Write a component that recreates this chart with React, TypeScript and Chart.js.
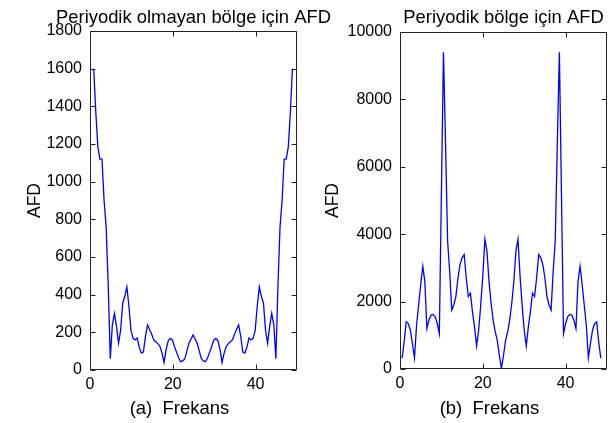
import React, { useEffect, useRef } from "react";
import { Chart, registerables } from "chart.js";

Chart.register(...registerables);

// ---- data ----
const FREQ_TICKS = [0, 20, 40];
const LEFT_Y_TICKS = [0, 200, 400, 600, 800, 1000, 1200, 1400, 1600, 1800];
const RIGHT_Y_TICKS = [0, 2000, 4000, 6000, 8000, 10000];

const LEFT_TITLE = "Periyodik olmayan bölge için AFD";
const RIGHT_TITLE = "Periyodik bölge için AFD";
const LEFT_XLABEL = "(a)  Frekans";
const RIGHT_XLABEL = "(b)  Frekans";
const Y_LABEL = "AFD";

// frequency bins (half-unit spacing)
const LEFT_FREQ = Array.from({ length: 97 }, (_, i) => 0.9 + 0.5 * i);
const RIGHT_FREQ = Array.from({ length: 97 }, (_, i) => 0.5 + 0.5 * i);

const LEFT_AFD = [
  1600, 1370, 1185, 1120, 1120, 900, 760, 450, 60, 240, 300, 230, 143, 212, 355, 390,
  442, 340, 210, 168, 160, 170, 120, 90, 95, 180, 239, 215, 190, 160, 150, 140,
  125, 90, 40, 110, 155, 168, 160, 125, 95, 65, 44, 48, 60, 100, 142, 165,
  186,
  165, 142, 100, 60, 48, 44, 65, 95, 125, 160, 168, 155, 110, 40, 90, 125,
  140, 150, 160, 190, 215, 239, 180, 95, 90, 120, 170, 160, 168, 210, 340, 442,
  390, 355, 212, 143, 230, 300, 240, 60, 450, 760, 900, 1120, 1120, 1185, 1370, 1600,
];

const RIGHT_AFD = [
  320, 800, 1400, 1350, 1150, 750, 330, 1300, 1900, 2500, 3050, 2600, 1200, 1450, 1600, 1620,
  1550, 1350, 1050, 5200, 9400, 6700, 3800, 2900, 1750, 1900, 2150, 2700, 3100, 3300, 3400, 2700,
  2150, 2250, 1700, 1250, 680, 1150, 1900, 2750, 3850, 3500, 2600, 1950, 1450, 1100, 850, 400,
  20,
  400, 850, 1100, 1450, 1950, 2600, 3500, 3850, 2750, 1900, 1150, 680, 1250, 1700, 2250, 2150,
  2700, 3400, 3300, 3100, 2700, 2150, 1900, 1750, 2900, 3800, 6700, 9400, 5200, 1050, 1350, 1550,
  1620, 1600, 1450, 1200, 2600, 3050, 2500, 1900, 1300, 330, 750, 1150, 1350, 1400, 800, 320,
];

const FONT = "'Liberation Sans', Arial, Helvetica, sans-serif";

const matlabFrame = {
  id: "matlabFrame",
  afterDraw(chart: any, _args: any, opts: any) {
    const { ctx, chartArea } = chart;
    const { left, right, top, bottom } = chartArea;
    const xs = chart.scales.x;
    const ys = chart.scales.y;
    const L = 5;
    ctx.save();
    ctx.strokeStyle = "#222";
    ctx.lineWidth = 1;
    ctx.beginPath();
    const l = Math.round(left) + 0.5, r = Math.round(right) - 0.5;
    const t = Math.round(top) + 0.5, b = Math.round(bottom) - 0.5;
    ctx.rect(l, t, r - l, b - t);
    xs.ticks.forEach((tk: any) => {
      const px = Math.round(xs.getPixelForValue(tk.value)) + 0.5;
      ctx.moveTo(px, b); ctx.lineTo(px, b - L);
      ctx.moveTo(px, t); ctx.lineTo(px, t + L);
    });
    ys.ticks.forEach((tk: any) => {
      const py = Math.round(ys.getPixelForValue(tk.value)) + 0.5;
      ctx.moveTo(l, py); ctx.lineTo(l + L, py);
      ctx.moveTo(r, py); ctx.lineTo(r - L, py);
    });
    ctx.stroke();
    ctx.fillStyle = "#000";
    ctx.textAlign = "center";
    ctx.textBaseline = "alphabetic";
    // title above the axes
    ctx.font = `${opts.size}px ${FONT}`;
    ctx.fillText(opts.text, (left + right) / 2, opts.baseline);
    // x label below the axes
    ctx.font = `${opts.xLabelSize}px ${FONT}`;
    ctx.fillText(opts.xLabel, (left + right) / 2 + opts.xLabelShift, opts.xLabelBaseline);
    ctx.restore();
  },
};

type PanelProps = {
  freq: number[];
  values: number[];
  yTicks: number[];
  title: string;
  xLabel: string;
  canvasLeft: number;
  canvasWidth: number;
  yAxisWidth: number;
  padRight: number;
  padTop: number;
  xAxisHeight: number;
  yTitlePad: number;
};

function Panel(p: PanelProps) {
  const ref = useRef<HTMLCanvasElement | null>(null);
  useEffect(() => {
    if (!ref.current) return;
    const chart = new Chart(ref.current, {
      type: "line",
      data: {
        datasets: [
          {
            data: p.freq.map((f, i) => ({ x: f, y: p.values[i] })),
            borderColor: "#0000ff",
            borderWidth: 1.3,
            pointRadius: 0,
            tension: 0,
            fill: false,
          },
        ],
      },
      options: {
        animation: false,
        responsive: false,
        maintainAspectRatio: false,
        devicePixelRatio: 1,
        layout: { padding: { left: 0, right: p.padRight, top: p.padTop, bottom: 0 } },
        plugins: {
          legend: { display: false },
          tooltip: { enabled: false },
          title: { display: false },
          matlabFrame: {
            text: p.title,
            size: 18.4,
            baseline: 23,
            xLabel: p.xLabel,
            xLabelSize: 18.5,
            xLabelShift: -14,
            xLabelBaseline: 414,
          },
        } as any,
        scales: {
          x: {
            type: "linear",
            min: 0,
            max: 50,
            afterBuildTicks: (s: any) => {
              s.ticks = FREQ_TICKS.map((v) => ({ value: v }));
            },
            afterFit: (s: any) => {
              s.height = p.xAxisHeight;
            },
            grid: { display: false, drawTicks: false },
            border: { display: false },
            ticks: {
              color: "#000",
              padding: 5,
              font: { family: FONT, size: 16 },
              callback: (v: any) => String(v),
            },
          },
          y: {
            type: "linear",
            min: p.yTicks[0],
            max: p.yTicks[p.yTicks.length - 1],
            afterBuildTicks: (s: any) => {
              s.ticks = p.yTicks.map((v) => ({ value: v }));
            },
            afterFit: (s: any) => {
              s.width = p.yAxisWidth;
            },
            grid: { display: false, drawTicks: false },
            border: { display: false },
            ticks: {
              color: "#000",
              padding: 8,
              font: { family: FONT, size: 16 },
              callback: (v: any) => String(v),
            },
            title: {
              display: true,
              text: Y_LABEL,
              color: "#000",
              font: { family: FONT, size: 17.5 },
              padding: { top: p.yTitlePad, bottom: 0 },
            },
          },
        },
      },
      plugins: [matlabFrame],
    });
    return () => chart.destroy();
  }, []);
  return (
    <canvas
      ref={ref}
      width={p.canvasWidth}
      height={423}
      style={{ position: "absolute", left: p.canvasLeft, top: 0, display: "block", width: p.canvasWidth, height: 423 }}
    />
  );
}

export default function App() {
  return (
    <div style={{ position: "absolute", left: 0, top: 0, width: 610, height: 423, background: "#fff" }}>
      <Panel
        freq={LEFT_FREQ}
        values={LEFT_AFD}
        yTicks={LEFT_Y_TICKS}
        title={LEFT_TITLE}
        xLabel={LEFT_XLABEL}
        canvasLeft={0}
        canvasWidth={387}
        yAxisWidth={90}
        padRight={90}
        padTop={31}
        xAxisHeight={53}
        yTitlePad={25}
      />
      <Panel
        freq={RIGHT_FREQ}
        values={RIGHT_AFD}
        yTicks={RIGHT_Y_TICKS}
        title={RIGHT_TITLE}
        xLabel={RIGHT_XLABEL}
        canvasLeft={305}
        canvasWidth={305}
        yAxisWidth={95}
        padRight={3}
        padTop={32}
        xAxisHeight={54}
        yTitlePad={18}
      />
    </div>
  );
}
